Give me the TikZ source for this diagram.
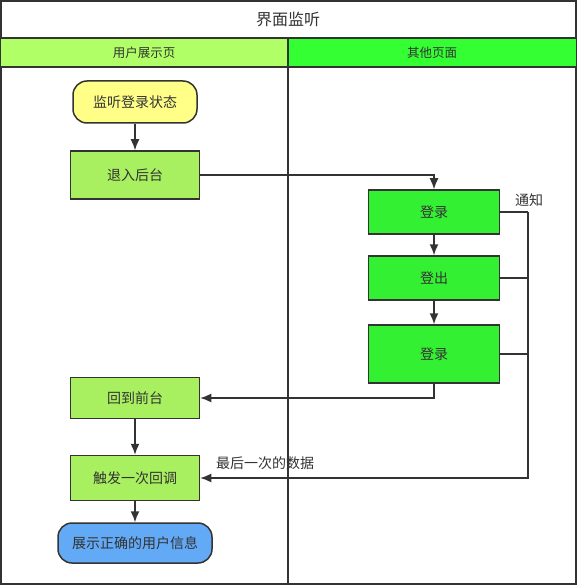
\documentclass[tikz,border=0pt]{standalone}
\usepackage{fontspec}
\setmainfont{Noto Sans CJK SC}
\usetikzlibrary{arrows.meta}
\usetikzlibrary{positioning}
\definecolor{lyellow}{HTML}{FFFF88}
\definecolor{lgreen}{HTML}{A8F060}
\definecolor{hgreen}{HTML}{B0FF66}
\definecolor{bgreen}{HTML}{33F033}
\definecolor{hbgreen}{HTML}{33FF33}
\definecolor{lblue}{HTML}{62AAF5}
\definecolor{ink}{HTML}{333333}
\tikzset{box/.style = {draw=ink, line width=1.5pt, inner sep=0pt, text=ink, font=\fontsize{14}{16}\selectfont},
         stepbox/.style = {box, fill=lgreen, minimum width=129pt, minimum height=48pt},
         actbox/.style = {box, fill=bgreen, minimum width=131pt},
         term/.style = {box, rounded corners=14pt, minimum height=42pt},
         flow/.style = {ink, line width=1.5pt, -{Latex[length=11pt, width=9pt]}},
         wire/.style = {ink, line width=1.5pt},
         tag/.style = {text=ink, font=\fontsize{14}{16}\selectfont}}

\begin{document}
\begin{tikzpicture}[x=1pt, y=-1pt]
    \useasboundingbox (0, 0) rectangle (577, 585);
    % swimlanes
    \draw [ink, line width=1.2pt] (1, 1) rectangle (576, 584);
    \fill [hgreen] (1, 38) rectangle (288, 67);
    \fill [hbgreen] (288, 38) rectangle (576, 67);
    \draw [ink, line width=1.2pt] (1, 38) -- (576, 38);
    \draw [ink, line width=1.2pt] (1, 67) -- (576, 67);
    \draw [ink, line width=1.2pt] (288, 38) -- (288, 584);
    \node [text=ink, font=\fontsize{16}{18}\selectfont] (title) at (288, 19) {界面监听};
    \node [text=ink, font=\fontsize{12.5}{14}\selectfont] (laneuser) at (144, 53) {用户展示页};
    \node [text=ink, font=\fontsize{12.5}{14}\selectfont] (laneother) at (432, 53) {其他页面};

    \node [term, fill=lyellow, minimum width=124pt] (listen) at (135, 102) {监听登录状态};
    \node [stepbox] (bg) at (135, 175) {退入后台};
    \node [actbox, minimum height=44pt] (login) at (434, 212) {登录};
    \node [actbox, minimum height=44pt] (logout) at (434, 278) {登出};
    \node [actbox, minimum height=58pt] (relogin) at (434, 354) {登录};
    \node [stepbox, minimum height=41pt] (fg) at (135, 398) {回到前台};
    \node [stepbox, minimum height=45pt] (callback) at (135, 478) {触发一次回调};
    \node [term, fill=lblue, minimum width=154pt, minimum height=40pt] (show) at (135, 543) {展示正确的用户信息};

    \draw [flow] (listen) -- (bg);
    \draw [flow] (bg.east) -| (login.north);
    \draw [flow] (login) -- (logout);
    \draw [flow] (logout) -- (relogin);
    \draw [flow] (relogin.south) |- (fg.east);
    \draw [flow] (fg) -- (callback);
    \draw [flow] (callback) -- (show);

    \coordinate (bus) at (528, 212);
    \draw [wire] (login.east) -- (bus);
    \draw [wire] (logout.east) -- (bus |- logout.east);
    \draw [wire] (relogin.east) -- (bus |- relogin.east);
    \draw [flow] (bus) |- (callback.east);
    \node [tag] (notify) at (529, 200) {通知};
    \node [tag] (lastdata) at (265, 463) {最后一次的数据};
\end{tikzpicture}
\end{document}
